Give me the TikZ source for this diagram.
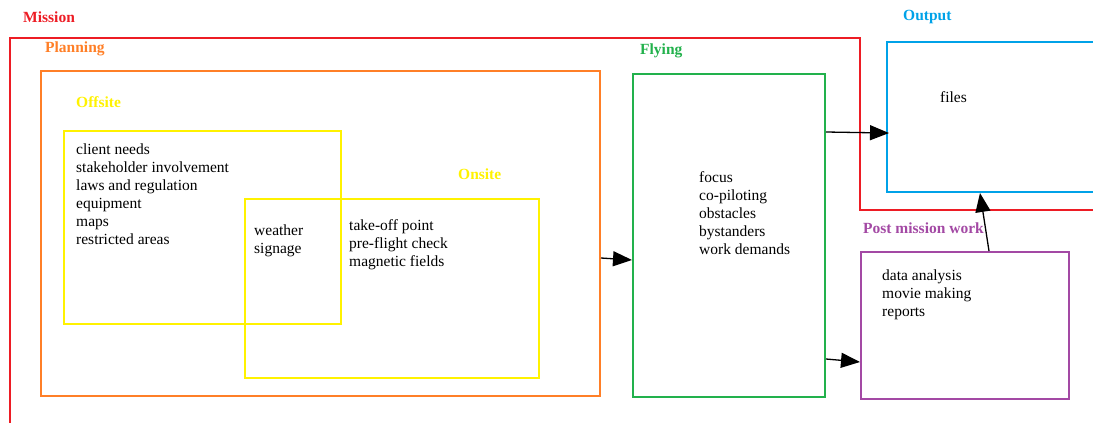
\documentclass[tikz,border=0pt]{standalone}
\usepackage{fontspec}
\setmainfont{Liberation Serif}
\usetikzlibrary{arrows.meta}
\definecolor{missioncol}{HTML}{ED1C24}
\definecolor{planningcol}{HTML}{FF7F27}
\definecolor{sitecol}{HTML}{FFF200}
\definecolor{flyingcol}{HTML}{22B14C}
\definecolor{outputcol}{HTML}{00A2E8}
\definecolor{postcol}{HTML}{A349A4}
\tikzset{
  box/.style={draw=#1, line width=2pt, inner sep=0pt, anchor=north west},
  lbl/.style={text=#1, font=\fontsize{15.5}{18}\selectfont\bfseries, inner sep=0pt, anchor=base west},
  txt/.style={font=\fontsize{15.5}{18}\selectfont, align=left, inner sep=0pt, anchor=base west},
  arr/.style={-{Triangle[length=19pt,width=15pt]}, line width=1.3pt}
}
\begin{document}
\begin{tikzpicture}[x=1pt,y=-1pt]
\useasboundingbox (0,0) rectangle (1093,423);
\clip (0,0) rectangle (1093,423);
\draw[missioncol, line width=2.5pt] (10,440) |- (860,38) |- (1110,210);
\node[box=outputcol, minimum width=240, minimum height=150] (output) at (886,41) {};
\node[box=planningcol, minimum width=559, minimum height=325] (planning) at (40,70) {};
\node[box=sitecol, minimum width=277, minimum height=193] (offsite) at (63,130) {};
\node[box=sitecol, minimum width=294, minimum height=179] (onsite) at (244,198) {};
\node[box=flyingcol, minimum width=192, minimum height=323] (flying) at (632,73) {};
\node[box=postcol, minimum width=208, minimum height=147] (post) at (860,251) {};

\node[lbl=missioncol] (missionlbl) at (23,23) {Mission};
\node[lbl=outputcol] (outputlbl) at (903,20) {Output};
\node[lbl=planningcol] (planninglbl) at (45,52) {Planning};
\node[lbl=sitecol] (offsitelbl) at (76,107) {Offsite};
\node[lbl=sitecol] (onsitelbl) at (458,179) {Onsite};
\node[lbl=flyingcol] (flyinglbl) at (640,54) {Flying};
\node[lbl=postcol] (postlbl) at (863,233) {Post mission work};

\node[txt] (offsitetxt) at (76,244) {client needs\\stakeholder involvement\\laws and regulation\\equipment\\maps\\restricted areas};
\node[txt] (bothtxt) at (254,253) {weather\\signage};
\node[txt] (onsitetxt) at (349,266) {take-off point\\pre-flight check\\magnetic fields};
\node[txt] (flyingtxt) at (699,254) {focus\\co-piloting\\obstacles\\bystanders\\work demands};
\node[txt] (posttxt) at (882,316) {data analysis\\movie making\\reports};
\node[txt] (outputtxt) at (940,102) {files};

\draw[arr] (planning.east |- 0,258) -- (flying.west |- 0,260);
\draw[arr, shorten >=-3pt] (flying.east |- 0,132) -- (output.west |- 0,133);
\draw[arr] (flying.east |- 0,359) -- (post.west |- 0,362);
\draw[arr] (post.north -| 989,0) -- (output.south -| 980,0);
\end{tikzpicture}
\end{document}
